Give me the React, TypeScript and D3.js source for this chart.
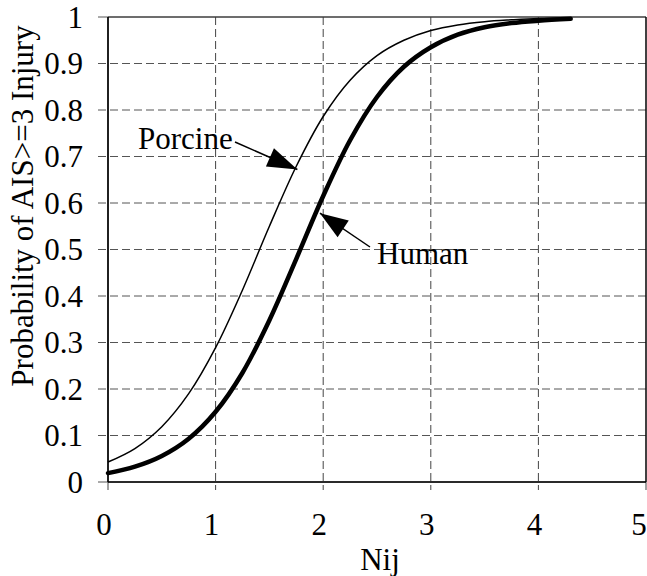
import React from "react";
import * as d3 from "d3";

const nij: number[] = [0, 0.25, 0.5, 0.75, 1, 1.25, 1.5, 1.75, 2, 2.25, 2.5, 2.75, 3, 3.25, 3.5, 3.75, 4, 4.3];
const humanProb: number[] = [0.019, 0.033, 0.056, 0.093, 0.151, 0.235, 0.348, 0.48, 0.615, 0.735, 0.828, 0.893, 0.935, 0.962, 0.978, 0.987, 0.992, 0.996];
const porcineProb: number[] = [0.043, 0.072, 0.119, 0.19, 0.289, 0.413, 0.55, 0.679, 0.786, 0.864, 0.917, 0.95, 0.971, 0.983, 0.99, 0.994, 0.997, 0.998];
const xTicks: number[] = [0, 1, 2, 3, 4, 5];
const yTicks: number[] = [0, 0.1, 0.2, 0.3, 0.4, 0.5, 0.6, 0.7, 0.8, 0.9, 1];

const W = 647;
const H = 576;
const L = 108, R = 646, T = 17, B = 482;
const FONT = "'Liberation Serif', 'Times New Roman', serif";
const txt: React.CSSProperties = { fontFamily: FONT, fontSize: "31px" };

function arrowHead(tipX: number, tipY: number, fromX: number, fromY: number, len: number, half: number) {
  const dx = tipX - fromX, dy = tipY - fromY;
  const d = Math.hypot(dx, dy);
  const ux = dx / d, uy = dy / d;
  const bx = tipX - ux * len, by = tipY - uy * len;
  const px = -uy, py = ux;
  return `M${tipX},${tipY}L${bx + px * half},${by + py * half}L${bx - px * half},${by - py * half}Z`;
}

export default function App() {
  const x = d3.scaleLinear().domain([0, 5]).range([L, R]);
  const y = d3.scaleLinear().domain([0, 1]).range([B, T]);
  const line = (vals: number[]) =>
    d3.line<number>().x((_, i) => x(nij[i])).y((v) => y(v)).curve(d3.curveCatmullRom.alpha(0.5))(vals) || "";

  const porcineTip = { x: x(1.76), y: y(0.672) };
  const porcineFrom = { x: 235, y: 142 };
  const humanTip = { x: x(1.97), y: y(0.578) };
  const humanFrom = { x: 370, y: 247 };

  return (
    <svg width={W} height={H} style={{ position: "absolute", left: 0, top: 0, background: "#fff", fontFamily: FONT }}>
      <rect x={0} y={0} width={W} height={H} fill="#fff" />
      {yTicks.map((t) => (
        <line key={"gy" + t} x1={L - 10} x2={R} y1={y(t)} y2={y(t)} stroke="#555" strokeWidth={1} strokeDasharray={t === 0 || t === 1 ? undefined : "8,4"} />
      ))}
      {xTicks.map((t) => (
        <line key={"gx" + t} x1={x(t)} x2={x(t)} y1={T} y2={B + 8} stroke="#444" strokeWidth={1} strokeDasharray={t === 0 || t === 5 ? undefined : "8,4"} />
      ))}
      <line x1={L} x2={R} y1={T} y2={T} stroke="#333" strokeWidth={1.2} />
      <line x1={R} x2={R} y1={T} y2={B} stroke="#000" strokeWidth={1.2} />
      <line x1={L} x2={L} y1={T} y2={B} stroke="#000" strokeWidth={1.6} />
      <line x1={L} x2={R} y1={B} y2={B} stroke="#000" strokeWidth={1.6} />
      {yTicks.map((t) => (
        <text key={"ly" + t} x={83} y={y(t)} dy="0.35em" textAnchor="end" style={txt} fill="#000">
          {String(t)}
        </text>
      ))}
      {xTicks.map((t) => (
        <text key={"lx" + t} x={Math.min(x(t) - 4, 639)} y={535} textAnchor="middle" style={txt} fill="#000">
          {String(t)}
        </text>
      ))}
      <text x={380} y={570} textAnchor="middle" style={txt} fill="#000">Nij</text>
      <text transform="translate(33,206) rotate(-90)" textAnchor="middle" style={txt} fill="#000">
        Probability of AIS&gt;=3 Injury
      </text>
      <path d={line(porcineProb)} fill="none" stroke="#000" strokeWidth={1.5} />
      <path d={line(humanProb)} fill="none" stroke="#000" strokeWidth={4.5} strokeLinecap="round" />
      <line x1={porcineFrom.x} y1={porcineFrom.y} x2={porcineTip.x} y2={porcineTip.y} stroke="#000" strokeWidth={1.5} />
      <path d={arrowHead(porcineTip.x, porcineTip.y, porcineFrom.x, porcineFrom.y, 30, 10)} fill="#000" />
      <text x={138} y={149} style={txt} fill="#000">Porcine</text>
      <line x1={humanFrom.x} y1={humanFrom.y} x2={humanTip.x} y2={humanTip.y} stroke="#000" strokeWidth={1.5} />
      <path d={arrowHead(humanTip.x, humanTip.y, humanFrom.x, humanFrom.y, 28, 10)} fill="#000" />
      <text x={377} y={264} style={txt} fill="#000">Human</text>
    </svg>
  );
}
